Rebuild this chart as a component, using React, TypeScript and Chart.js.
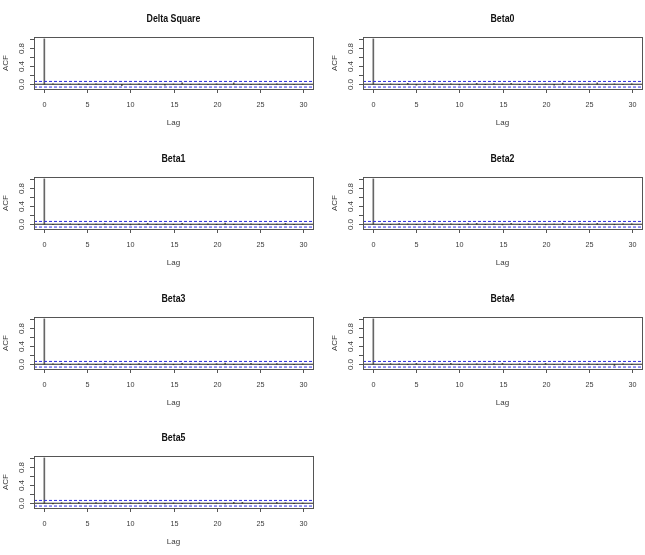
import React, { useEffect, useRef } from "react";
import { Chart, registerables } from "chart.js";

Chart.register(...registerables);

const LAGS = [0, 1, 2, 3, 4, 5, 6, 7, 8, 9, 10, 11, 12, 13, 14, 15, 16, 17, 18, 19, 20, 21, 22, 23, 24, 25, 26, 27, 28, 29, 30];

const TITLES = ["Delta Square", "Beta0", "Beta1", "Beta2", "Beta3", "Beta4", "Beta5"];

const ACF_DELTA_SQUARE = [1, 0.01, -0.01, 0.005, 0.01, -0.01, 0.008, -0.006, 0.01, -0.03, 0.005, 0.01, -0.008, 0.006, -0.02, 0.004, 0.03, -0.01, 0.006, -0.005, 0.008, -0.006, 0.03, 0.004, -0.012, 0.006, -0.008, 0.01, 0.005, -0.006, 0.004];
const ACF_BETA0 = [1, -0.01, 0.008, -0.012, 0.02, -0.02, 0.01, 0.015, -0.01, 0.008, -0.015, 0.006, 0.02, -0.01, 0.012, 0.006, 0.02, -0.008, 0.01, -0.012, 0.006, -0.02, 0.025, 0.01, -0.008, 0.006, 0.03, -0.01, 0.008, -0.006, 0.01];
const ACF_BETA1 = [1, -0.008, 0.006, 0.01, -0.012, 0.008, 0.005, 0.012, -0.01, 0.006, -0.015, 0.008, 0.02, -0.006, 0.01, -0.01, 0.02, -0.012, 0.006, 0.008, -0.01, 0.025, -0.008, 0.006, 0.01, -0.012, 0.008, 0.006, 0.02, -0.01, 0.006];
const ACF_BETA2 = [1, 0.008, -0.01, 0.012, 0.006, -0.01, 0.01, 0.015, -0.012, 0.008, -0.01, 0.012, 0.02, -0.008, 0.01, -0.015, 0.02, -0.01, 0.008, 0.01, -0.012, 0.006, 0.02, -0.008, 0.012, -0.01, 0.02, 0.006, -0.012, 0.008, 0.01];
const ACF_BETA3 = [1, 0.01, 0.02, -0.012, 0.008, 0.012, -0.01, 0.015, -0.015, 0.01, -0.008, 0.012, -0.01, 0.006, 0.01, -0.012, 0.02, 0.008, 0.01, -0.01, 0.012, 0.025, -0.008, 0.006, 0.02, -0.01, 0.008, 0.012, 0.006, -0.01, 0.008];
const ACF_BETA4 = [1, 0.006, 0.015, 0.01, -0.008, 0.02, -0.006, 0.01, -0.01, 0.02, -0.008, 0.006, 0.01, -0.01, 0.015, 0.02, -0.006, 0.01, 0.012, -0.008, 0.02, -0.006, 0.01, -0.008, 0.006, 0.01, -0.01, 0.006, -0.03, 0.008, -0.006];
const ACF_BETA5 = [1, -0.015, 0.012, 0.008, 0.02, -0.01, 0.012, 0.015, 0.01, -0.012, 0.01, 0.006, 0.02, -0.01, -0.015, 0.008, -0.012, -0.015, 0.01, -0.008, 0.006, -0.015, 0.02, 0.02, -0.01, 0.008, -0.006, 0.02, 0.01, -0.008, 0.006];

const SERIES = [ACF_DELTA_SQUARE, ACF_BETA0, ACF_BETA1, ACF_BETA2, ACF_BETA3, ACF_BETA4, ACF_BETA5];

const CI = 0.062;
const X_MIN = -1.2;
const X_MAX = 31.2;
const Y_MIN = -0.105;
const Y_MAX = 1.042;

const X_TICKS = [0, 5, 10, 15, 20, 25, 30];
const X_TICK_LABELS = ["0", "5", "10", "15", "20", "25", "30"];
const Y_TICKS = [0, 0.2, 0.4, 0.6, 0.8, 1.0];
const Y_TICK_LABELS = ["0.0", "", "0.4", "", "0.8", ""];

const X_LABEL = "Lag";
const Y_LABEL = "ACF";

const COL_X = [0, 329];
const ROW_Y = [0, 140, 280, 419];
const PANEL_W = 322;
const PANEL_H = 140;

const FONT = "'Liberation Sans', Arial, sans-serif";

const rAxesPlugin = {
  id: "rAxes",
  afterDraw(chart: any) {
    const { ctx, chartArea, scales } = chart;
    const title = chart.options.plugins.rAxes.title;
    const xs = scales.x;
    const ys = scales.y;
    const { left, right, top, bottom } = chartArea;
    ctx.save();
    ctx.strokeStyle = "#555";
    ctx.lineWidth = 1;
    ctx.strokeRect(Math.round(left) + 0.5, Math.round(top) + 0.5, Math.round(right - left), Math.round(bottom - top));
    ctx.fillStyle = "#3a3a3a";
    ctx.font = `8px ${FONT}`;
    Y_TICKS.forEach((v, i) => {
      const py = Math.round(ys.getPixelForValue(v)) + 0.5;
      ctx.beginPath();
      ctx.moveTo(left - 4, py);
      ctx.lineTo(left, py);
      ctx.stroke();
      const lab = Y_TICK_LABELS[i];
      if (lab) {
        ctx.save();
        ctx.translate(left - 12, py);
        ctx.rotate(-Math.PI / 2);
        ctx.textAlign = "center";
        ctx.textBaseline = "middle";
        ctx.fillText(lab, 0, 0);
        ctx.restore();
      }
    });
    X_TICKS.forEach((v, i) => {
      const px = Math.round(xs.getPixelForValue(v)) + 0.5;
      ctx.beginPath();
      ctx.moveTo(px, bottom);
      ctx.lineTo(px, bottom + 4);
      ctx.stroke();
      ctx.save();
      ctx.translate(px, bottom + 16);
      ctx.scale(0.9, 1);
      ctx.textAlign = "center";
      ctx.textBaseline = "middle";
      ctx.fillText(X_TICK_LABELS[i], 0, 0);
      ctx.restore();
    });
    const cx = (left + right) / 2;
    ctx.font = `8px ${FONT}`;
    ctx.textAlign = "center";
    ctx.textBaseline = "middle";
    ctx.fillText(X_LABEL, cx, bottom + 34);
    ctx.save();
    ctx.translate(left - 28, (top + bottom) / 2);
    ctx.rotate(-Math.PI / 2);
    ctx.fillText(Y_LABEL, 0, 0);
    ctx.restore();
    ctx.font = `bold 10px ${FONT}`;
    ctx.fillStyle = "#111";
    ctx.save();
    ctx.translate(cx, top - 18);
    ctx.scale(0.88, 1);
    ctx.fillText(title, 0, 0);
    ctx.restore();
    ctx.restore();
  },
};

function Panel({ title, values, x, y }: { title: string; values: number[]; x: number; y: number }) {
  const ref = useRef<HTMLCanvasElement | null>(null);
  useEffect(() => {
    if (!ref.current) return;
    const spikes = LAGS.map((l, i) => ({ x: l, y: values[i] }));
    const chart = new Chart(ref.current, {
      type: "bar",
      data: {
        datasets: [
          {
            type: "bar",
            data: spikes,
            backgroundColor: "#666",
            barThickness: 1,
            borderWidth: 0,
            grouped: false,
            order: 2,
          } as any,
          {
            type: "line",
            data: [{ x: X_MIN, y: 0 }, { x: X_MAX, y: 0 }],
            borderColor: "#222",
            borderWidth: 1,
            pointRadius: 0,
            order: 1,
          } as any,
          {
            type: "line",
            data: [{ x: X_MIN, y: CI }, { x: X_MAX, y: CI }],
            borderColor: "#2b2be0",
            borderWidth: 1,
            borderDash: [3, 2],
            pointRadius: 0,
            order: 0,
          } as any,
          {
            type: "line",
            data: [{ x: X_MIN, y: -CI }, { x: X_MAX, y: -CI }],
            borderColor: "#2b2be0",
            borderWidth: 1,
            borderDash: [3, 2],
            pointRadius: 0,
            order: 0,
          } as any,
        ],
      },
      options: {
        responsive: false,
        maintainAspectRatio: false,
        devicePixelRatio: 1,
        animation: false,
        layout: { padding: { left: 34, right: 9, top: 37, bottom: 51 } },
        scales: {
          x: { type: "linear", min: X_MIN, max: X_MAX, offset: false, display: false },
          y: { type: "linear", min: Y_MIN, max: Y_MAX, display: false },
        },
        plugins: {
          legend: { display: false },
          tooltip: { enabled: false },
          rAxes: { title },
        } as any,
      },
      plugins: [rAxesPlugin],
    });
    return () => chart.destroy();
  }, [title, values]);
  return (
    <canvas
      ref={ref}
      width={PANEL_W}
      height={PANEL_H}
      style={{ position: "absolute", left: x, top: y, width: PANEL_W, height: PANEL_H }}
    />
  );
}

export default function App() {
  return (
    <div style={{ position: "fixed", left: 0, top: 0, width: 645, height: 555, background: "#fff", overflow: "hidden" }}>
      {TITLES.map((t, i) => (
        <Panel key={t} title={t} values={SERIES[i]} x={COL_X[i % 2]} y={ROW_Y[Math.floor(i / 2)]} />
      ))}
    </div>
  );
}
